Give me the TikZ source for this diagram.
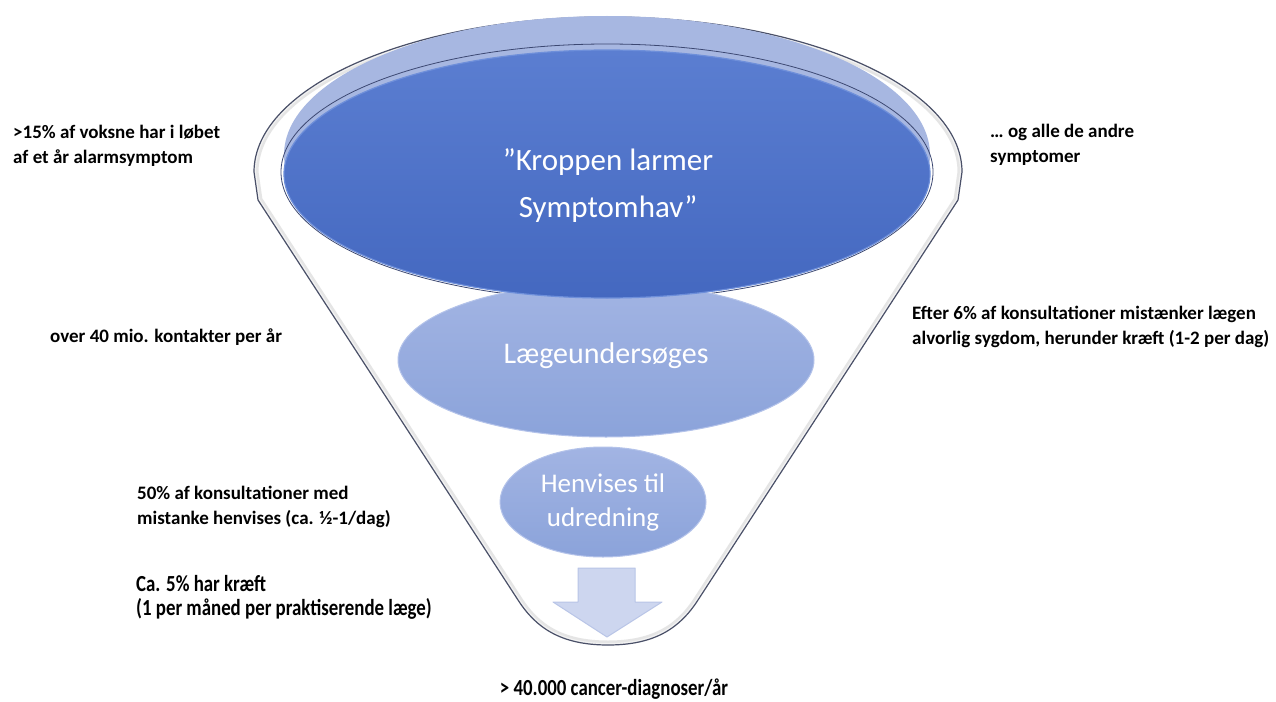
\documentclass[tikz,border=0pt]{standalone}
\usepackage{fontspec}
\setmainfont{Carlito}
\newfontfamily\condfont{Carlito}[FakeStretch=0.82]
\usetikzlibrary{shapes.geometric}
\definecolor{funnelline}{HTML}{4A5068}
\definecolor{rimblue}{HTML}{A7B7E1}
\definecolor{rimline}{HTML}{3C4872}
\definecolor{darktop}{HTML}{5B7ED1}
\definecolor{darkbot}{HTML}{4468C0}
\definecolor{darkedge}{HTML}{6E8FDA}
\definecolor{midtop}{HTML}{A2B4E3}
\definecolor{midbot}{HTML}{8BA3DA}
\definecolor{midedge}{HTML}{B4C3EA}
\definecolor{arrowfill}{HTML}{CDD6EF}
\definecolor{arrowline}{HTML}{B9C5E7}
\begin{document}
\begin{tikzpicture}[x=1pt,y=-1pt,
  lab/.style={font=\fontsize{19}{25.5}\selectfont\bfseries, align=left, anchor=north west, inner sep=0pt, text=black},
  condlab/.style={font=\fontsize{23}{24.5}\selectfont\condfont\bfseries, align=left, anchor=north west, inner sep=0pt, text=black},
  bubble/.style={ellipse, inner sep=0pt, top color=midtop, bottom color=midbot, draw=midedge, line width=1pt},
  bigtext/.style={text=white, align=center, inner sep=0pt}]
\useasboundingbox (0,0) rectangle (1276,701);
% funnel body
\fill[white] (258,200) -- (254,172) arc[start angle=180,end angle=0,x radius=354pt,y radius=155pt] -- (958,200) -- (698,600) .. controls (680,628) and (655,645) .. (608,645) .. controls (561,645) and (536,628) .. (518,600) -- cycle;
\begin{scope}
\clip (258,200) -- (254,172) arc[start angle=180,end angle=0,x radius=354pt,y radius=155pt] -- (958,200) -- (698,600) .. controls (680,628) and (655,645) .. (608,645) .. controls (561,645) and (536,628) .. (518,600) -- cycle;
\draw[black!10, line width=9pt] (258,200) -- (254,172) arc[start angle=180,end angle=0,x radius=354pt,y radius=155pt] -- (958,200) -- (698,600) .. controls (680,628) and (655,645) .. (608,645) .. controls (561,645) and (536,628) .. (518,600) -- cycle;
\draw[black!5, line width=4pt] (258,200) -- (254,172) arc[start angle=180,end angle=0,x radius=354pt,y radius=155pt] -- (958,200) -- (698,600) .. controls (680,628) and (655,645) .. (608,645) .. controls (561,645) and (536,628) .. (518,600) -- cycle;
\end{scope}
\draw[funnelline, line width=1.2pt, line join=round] (258,200) -- (254,172) arc[start angle=180,end angle=0,x radius=354pt,y radius=155pt] -- (958,200) -- (698,600) .. controls (680,628) and (655,645) .. (608,645) .. controls (561,645) and (536,628) .. (518,600) -- cycle;
% funnel mouth rim
\fill[rimblue] (607,155) ellipse[x radius=323pt, y radius=139pt];
\draw[rimline, line width=0.8pt] (607,172) ellipse[x radius=326pt, y radius=128pt];
% middle ellipse (behind the top one)
\node[bubble, minimum width=416pt, minimum height=154pt] (mid) at (606,360) {};
% top ellipse
\node[ellipse, inner sep=0pt, minimum width=646pt, minimum height=248pt, top color=darktop, bottom color=darkbot, draw=darkedge, line width=1.2pt] (top) at (607,174) {};
% bottom ellipse
\node[bubble, minimum width=206pt, minimum height=110pt] (low) at (603,502) {};
% texts in ellipses
\node[bigtext, font=\fontsize{31}{47}\selectfont] (toptext) at (608,186) {”Kroppen larmer\\Symptomhav”};
\node[bigtext, font=\fontsize{30}{36}\selectfont, text height=21pt, text depth=7pt] (midtext) at (606,356) {Lægeundersøges};
\node[bigtext, font=\fontsize{27}{34}\selectfont] (lowtext) at (603,502) {Henvises til\\udredning};
% arrow
\filldraw[fill=arrowfill, draw=arrowline, line width=1pt, line join=round] (578,568) -- (635,568) -- (635,602) -- (662,602) -- (607,637) -- (553,602) -- (578,602) -- cycle;
% labels
\node[lab] (l1) at (13,124.5) {>15\% af voksne har i løbet\\af et år alarmsymptom};
\node[lab] (l2) at (50,328.5) {over 40 mio. kontakter per år};
\node[lab] (l3) at (137,485.5) {50\% af konsultationer med\\mistanke henvises (ca. ½-1/dag)};
\node[lab] (r1) at (990,123.5) {… og alle de andre\\symptomer};
\node[lab] (r2) at (912,305.5) {Efter 6\% af konsultationer mistænker lægen\\alvorlig sygdom, herunder kræft (1-2 per dag)};
\node[condlab] (l4) at (136,575) {Ca. 5\% har kræft\\(1 per måned per praktiserende læge)};
\node[condlab, anchor=north] (bot) at (614,679) {> 40.000 cancer-diagnoser/år};
\end{tikzpicture}
\end{document}
